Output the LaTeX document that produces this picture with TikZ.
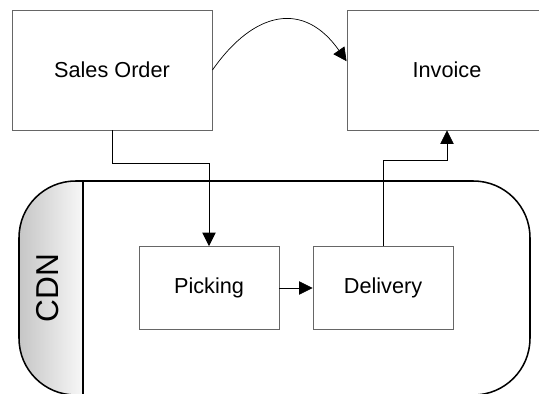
\documentclass[tikz,border=0pt]{standalone}
\usepackage{fontspec}
\setmainfont{Liberation Sans}
\usetikzlibrary{arrows.meta,positioning}

\begin{document}
\begin{tikzpicture}[x=0.3mm,y=-0.3mm,
 task/.style={draw=black!60,line width=0.8pt,fill=white,inner sep=0pt,font=\fontsize{18.5}{22}\selectfont},
 bigtask/.style={task,minimum width=60mm,minimum height=36mm},
 smalltask/.style={task,minimum width=42mm,minimum height=24.9mm},
 flow/.style={-{Triangle[length=4mm,width=4mm]},line width=0.6pt},
 pool/.style={draw,line width=1.3pt,rounded corners=17mm}]

\useasboundingbox (0,0) rectangle (539,394);

% Swimlane of the CDN system, header shaded
\begin{scope}
\clip[rounded corners=17mm] (19,181) rectangle (530,395);
\shade[left color=gray!45,right color=gray!6] (19,181) rectangle (83,395);
\end{scope}
\draw[pool] (19,181) rectangle (530,395);
\draw[line width=1pt] (83,181) -- (83,395);
\node[rotate=90,font=\fontsize{27}{30}\selectfont] (cdn) at (48,288) {CDN};

% Documents
\node[bigtask] (so) at (112,70) {Sales Order};
\node[bigtask] (inv) at (447,70) {Invoice};
\node[smalltask] (pick) at (209,288) {Picking};
\node[smalltask] (del) at (383,288) {Delivery};

% Document flow
\draw[flow] (so.east) to[out=55,in=125,looseness=1.4] (inv.175);
\draw[flow] (so.south) -- ++(0,33) -| (pick.north);
\draw[flow] (pick) -- (del);
\draw[flow] (del.north) -- ++(0,-86) -| (inv.south);
\end{tikzpicture}
\end{document}
